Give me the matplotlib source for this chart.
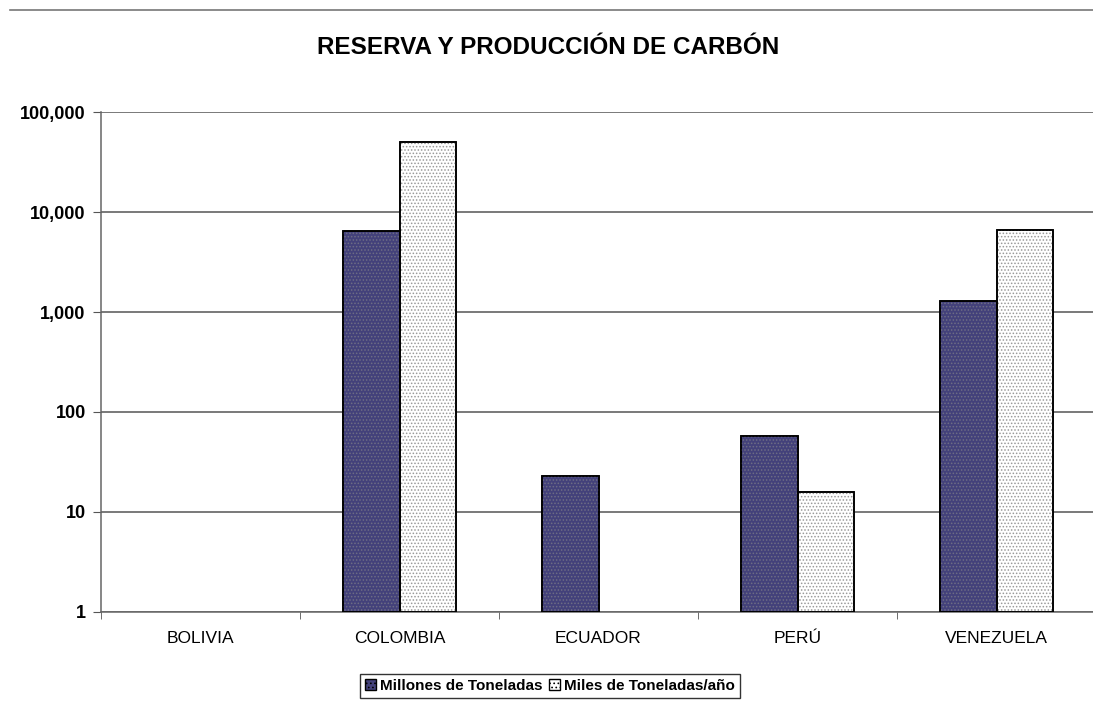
import numpy as np
import matplotlib
matplotlib.use("Agg")
import matplotlib.pyplot as plt
from matplotlib.lines import Line2D
from matplotlib.patches import Patch
from matplotlib.ticker import FuncFormatter

plt.rcParams['font.family'] = ['Liberation Sans', 'DejaVu Sans']

# datos (nan = sin dato)
paises = ['BOLIVIA', 'COLOMBIA', 'ECUADOR', 'PERÚ', 'VENEZUELA']
reservas = [np.nan, 6500, 22, 57, 1300]          # Millones de Toneladas
produccion = [np.nan, 50000, np.nan, 15, 6600]  # Miles de Toneladas/año
series = ['Millones de Toneladas', 'Miles de Toneladas/año']
y_ticks = [1, 10, 100, 1000, 10000, 100000]

oscuro = '#43417a'
W, H = 1093, 705
fig = plt.figure(figsize=(W / 100, H / 100), dpi=100)
ax = fig.add_axes([101 / W, (H - 612) / H, 995 / W, 500 / H])

x = np.arange(len(paises))
ancho = 0.286


def barras(vals, offset, color, hatch, hcolor):
    vals = np.array(vals, dtype=float)
    ok = ~np.isnan(vals)
    xs = x[ok] + offset
    ax.bar(xs, vals[ok], ancho, bottom=1, color=color, edgecolor='black',
           linewidth=1.2, zorder=3)
    ax.bar(xs, vals[ok], ancho, bottom=1, color='none', edgecolor=hcolor,
           hatch=hatch, linewidth=0, zorder=4)
    ax.bar(xs, vals[ok], ancho, bottom=1, color='none', edgecolor='black',
           linewidth=1.2, zorder=5)


plt.rcParams['hatch.linewidth'] = 0.7
barras(reservas, -ancho / 2, oscuro, '.....', '#6e6d85')
barras(produccion, ancho / 2, 'white', '.....', '#999999')

ax.set_yscale('log')
ax.set_ylim(1, 100000)
ax.set_xlim(-0.5, 4.5)
ax.set_yticks(y_ticks)
ax.yaxis.set_minor_locator(matplotlib.ticker.NullLocator())
ax.yaxis.set_major_formatter(FuncFormatter(lambda v, p: f'{v:,.0f}'))
ax.grid(axis='y', color='#555555', linewidth=1.1, zorder=0)

ax.set_xticks(x)
ax.set_xticklabels(paises, fontsize=12.5)
ax.set_xticks(np.arange(len(paises) + 1) - 0.5, minor=True)
ax.tick_params(axis='x', which='major', length=0, pad=14)
ax.tick_params(axis='x', which='minor', length=5, color='#555555', direction='out')
ax.tick_params(axis='y', length=6, color='#555555', labelsize=13, pad=5)
for t in ax.get_yticklabels():
    t.set_fontweight('bold')

for s in ['top', 'right']:
    ax.spines[s].set_visible(False)
for s in ['left', 'bottom']:
    ax.spines[s].set_color('#666666')
    ax.spines[s].set_linewidth(1.1)

fig.text(548 / W, 1 - 48 / H, 'RESERVA Y PRODUCCIÓN DE CARBÓN',
         ha='center', va='center', fontsize=17.5, fontweight='bold')

fig.add_artist(Line2D([10 / W, 1], [1 - 10 / H, 1 - 10 / H], color='#777777', linewidth=1.2))

handles = [Patch(facecolor=oscuro, edgecolor='black', hatch='....'),
           Patch(facecolor='white', edgecolor='black', hatch='....')]
leg = fig.legend(handles, series, loc='center', bbox_to_anchor=(550 / W, 1 - 686 / H),
                 ncol=2, fontsize=11, fancybox=False, edgecolor='black',
                 handlelength=0.7, handleheight=0.7, handletextpad=0.3,
                 columnspacing=0.4, borderpad=0.3, borderaxespad=0)
leg.get_frame().set_linewidth(1.0)
for t in leg.get_texts():
    t.set_fontweight('bold')

fig.savefig('out.png', dpi=100)
